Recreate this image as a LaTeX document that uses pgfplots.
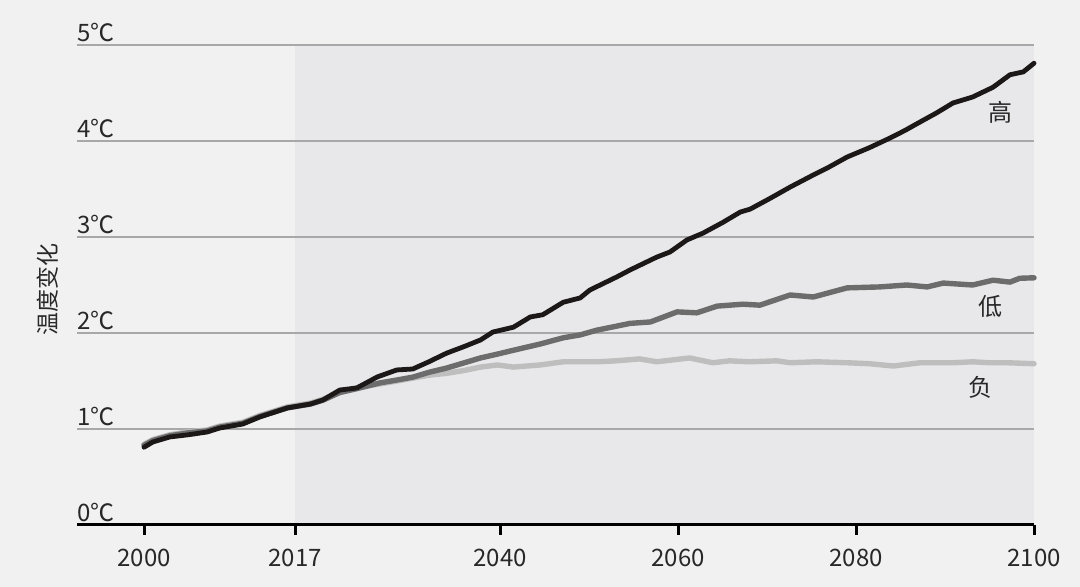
\documentclass[border=0pt]{standalone}
\usepackage{fontspec}
\setmainfont{Noto Sans CJK SC}
\usepackage{pgfplots}
\pgfplotsset{compat=1.18}
\definecolor{bg}{RGB}{241,241,241}
\definecolor{shade}{RGB}{232,232,234}
\definecolor{gridc}{RGB}{168,168,168}
\definecolor{txt}{RGB}{40,40,40}
\definecolor{hi}{RGB}{28,24,24}
\definecolor{lo}{RGB}{108,108,108}
\definecolor{neg}{RGB}{190,190,190}
\begin{document}
\begin{tikzpicture}
\begin{axis}[
  set layers=standard,
  scale only axis, width=478.5pt, height=240pt,
  xmin=1992.47, xmax=2100, ymin=0, ymax=5,
  axis x line=bottom, axis y line=left,
  x axis line style={line width=1.5pt, black, -},
  y axis line style={draw=none},
  xtick={2000,2017,2040,2060,2080,2100},
  xticklabels={2000,2017,2040,2060,2080,2100},
  ytick={0,1,2,3,4,5},
  yticklabels={0℃,1℃,2℃,3℃,4℃,5℃},
  ymajorgrids, grid style={gridc, line width=1pt},
  tick align=outside, major tick length=5pt,
  xtick style={line width=1.5pt, black},
  ytick style={draw=none},
  yticklabel style={anchor=south west, xshift=5pt, yshift=1.5pt, inner sep=0pt},
  xticklabel style={yshift=-3.5pt},
  tick label style={font=\fontsize{12}{14}\selectfont, text=txt},
  ylabel={温度变化},
  ylabel style={at={(axis description cs:-0.0303,0.49)}, anchor=center, font=\fontsize{11.5}{13}\selectfont, text=txt},
  clip=false,
]
\begin{pgfonlayer}{axis background}
\fill[bg] (rel axis cs:-0.080460,-0.129167) rectangle (rel axis cs:1.048067,1.09375);
\end{pgfonlayer}
\addplot[on layer=axis background, fill=shade, draw=none] coordinates {(2017,5) (2100,5)} \closedcycle;
% negative scenario
\addplot[neg, line width=2.7pt, line join=round, line cap=round] coordinates {
(2000,0.84) (2001,0.89) (2002.9,0.94) (2005,0.97) (2007.1,0.99) (2008.5,1.03) (2011.1,1.07) (2013,1.14) (2016.1,1.23) (2018.7,1.27) (2020.1,1.31) (2022,1.39) (2023.9,1.43) (2026.5,1.47) (2028.4,1.50) (2030.2,1.53) (2032,1.56) (2034,1.58) (2036,1.61) (2037.8,1.645) (2039.7,1.667) (2041.5,1.645) (2044.5,1.667) (2047.1,1.70) (2050.9,1.70) (2053,1.71) (2055.7,1.73) (2057.6,1.70) (2061.3,1.74) (2063.9,1.69) (2065.8,1.71) (2068,1.70) (2071.1,1.71) (2072.6,1.69) (2075.6,1.70) (2079,1.69) (2081.5,1.68) (2084.2,1.656) (2087.2,1.69) (2090.9,1.69) (2093.1,1.70) (2095,1.69) (2097,1.69) (2100,1.68)
};
% low scenario
\addplot[lo, line width=2.7pt, line join=round, line cap=round] coordinates {
(2000,0.83) (2001,0.88) (2002.9,0.93) (2005,0.96) (2007.1,0.98) (2008.5,1.02) (2011.1,1.06) (2013,1.13) (2016.1,1.22) (2018.7,1.26) (2020.1,1.30) (2022,1.38) (2023.9,1.42) (2026.5,1.48) (2028.4,1.51) (2030.2,1.54) (2032,1.59) (2034,1.635) (2036,1.69) (2037.8,1.74) (2039.7,1.78) (2041.5,1.82) (2044.5,1.885) (2047.1,1.95) (2049,1.98) (2050.9,2.03) (2052.5,2.06) (2054.6,2.10) (2056.9,2.115) (2059.9,2.22) (2062.1,2.21) (2064.4,2.28) (2067.3,2.30) (2069.2,2.29) (2072.6,2.396) (2075.2,2.375) (2077,2.42) (2079,2.47) (2082.7,2.48) (2085.7,2.50) (2088,2.48) (2089.8,2.52) (2093.1,2.50) (2095.4,2.55) (2097.3,2.53) (2098.4,2.57) (2100,2.575)
};
% high scenario
\addplot[hi, line width=2.4pt, line join=round, line cap=round] coordinates {
(2000,0.81) (2001,0.865) (2002.9,0.917) (2005,0.94) (2007.1,0.969) (2008.5,1.01) (2011.1,1.052) (2013,1.125) (2016.1,1.219) (2018.7,1.26) (2020.1,1.302) (2022,1.406) (2023.9,1.427) (2026.2,1.542) (2028.4,1.615) (2030.2,1.625) (2032,1.70) (2034,1.79) (2036,1.86) (2037.8,1.927) (2039.2,2.01) (2041.5,2.06) (2043.4,2.167) (2044.8,2.19) (2047.1,2.32) (2049,2.365) (2050.1,2.448) (2053.1,2.583) (2054.6,2.656) (2057.6,2.79) (2059.1,2.844) (2061,2.969) (2062.8,3.04) (2065,3.15) (2067,3.26) (2068.1,3.29) (2070.3,3.40) (2072.6,3.52) (2075.2,3.646) (2077,3.73) (2079,3.833) (2081.5,3.93) (2083.8,4.03) (2085.5,4.11) (2087.2,4.198) (2089,4.29) (2090.9,4.396) (2093.1,4.458) (2095.4,4.56) (2097.3,4.69) (2098.8,4.72) (2100,4.81)
};
\node[font=\fontsize{12}{14}\selectfont, text=txt] at (axis cs:2096.2,4.30) {高};
\node[font=\fontsize{12}{14}\selectfont, text=txt] at (axis cs:2095.1,2.28) {低};
\node[font=\fontsize{12}{14}\selectfont, text=txt] at (axis cs:2094.0,1.43) {负};
\end{axis}
\end{tikzpicture}
\end{document}
